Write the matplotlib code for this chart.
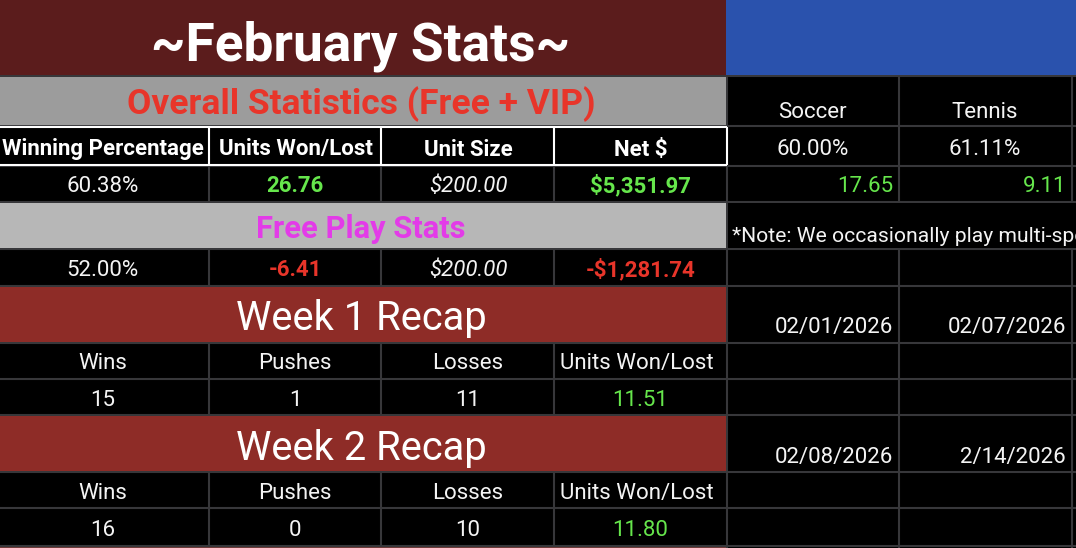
import matplotlib
matplotlib.use("Agg")
import matplotlib.pyplot as plt
from matplotlib.patches import Rectangle

plt.rcParams['font.family'] = ['Roboto', 'DejaVu Sans']

TITLE = "~February Stats~"
OVERALL = "Overall Statistics (Free + VIP)"
FREE = "Free Play Stats"
HEADERS = ["Winning Percentage", "Units Won/Lost", "Unit Size", "Net $"]
OVERALL_VALUES = ["60.38%", "26.76", "$200.00", "$5,351.97"]
FREE_VALUES = ["52.00%", "-6.41", "$200.00", "-$1,281.74"]
WEEK_TITLES = ["Week 1 Recap", "Week 2 Recap"]
WEEK_HEADERS = ["Wins", "Pushes", "Losses", "Units Won/Lost"]
WEEK_ROWS = [["15", "1", "11", "11.51"], ["16", "0", "10", "11.80"]]
SPORTS = ["Soccer", "Tennis"]
SPORT_PCT = ["60.00%", "61.11%"]
SPORT_UNITS = ["17.65", "9.11"]
NOTE = "*Note: We occasionally play multi-sport"
WEEK_DATES = [["02/01/2026", "02/07/2026"], ["02/08/2026", "2/14/2026"]]

XS = [0, 208.5, 381, 553.5, 726.5, 898.5, 1071.5, 1076]
YS = [0, 76, 126, 166, 202, 249, 286, 343, 379, 415, 472, 508, 545.5, 548]

GREEN = "#66e64c"
RED = "#e8352a"
DARK_RED = "#5b1c1c"
MID_RED = "#8e2c27"
GRID = "#37373a"
WHITE = "#f4f4f4"

fig = plt.figure(figsize=(10.76, 5.48), dpi=100, facecolor="black")
ax = fig.add_axes([0, 0, 1, 1])
ax.set_xlim(0, 1076)
ax.set_ylim(548, 0)
ax.axis("off")


def rect(x0, y0, x1, y1, color, z=1):
    ax.add_patch(Rectangle((x0, y0), x1 - x0, y1 - y0, facecolor=color, edgecolor="none", zorder=z))


def put(x, y, s, size, color=WHITE, ha="center", weight="normal", style="normal"):
    ax.text(x, y, s, fontsize=size, color=color, ha=ha, va="center_baseline",
            fontweight=weight, fontstyle=style, zorder=5, clip_on=True)


# grid lines
for x in XS[1:-1]:
    ax.plot([x, x], [76, 548], color=GRID, lw=1.5, zorder=2, solid_capstyle="butt")
for y in YS[1:-1]:
    ax.plot([0, 1076], [y, y], color=GRID, lw=1.5, zorder=2, solid_capstyle="butt")

# bands
rect(0, 0, 726, 75, DARK_RED, 3)
rect(726, 0, 1076, 75, "#2a52ad", 3)
rect(0, 77, 726, 125, "#9c9c9c", 3)
rect(0, 203, 726, 248, "#b7b7b7", 3)
rect(0, 287, 726, 342, MID_RED, 3)
rect(0, 416, 726, 471, MID_RED, 3)
rect(0, 546.5, 726, 548, "#6e3a38", 3)

put(361, 40, TITLE, 38.3, "white", weight="bold")
put(361, 100, OVERALL, 25.5, RED, weight="bold")
put(361, 226, FREE, 22.2, "#e33be8", weight="bold")

cx = [(XS[i] + XS[i + 1]) / 2 for i in range(6)]
cx_text = [102.5, 295, 468, 640.5]

# header row with white borders
for i, h in enumerate(HEADERS):
    put(cx_text[i] + (0.5 if i else 0), 147, h, 16, "white", weight="bold")
for x in XS[1:5]:
    ax.plot([x, x], [127, 165], color="white", lw=1.5, zorder=4, solid_capstyle="butt")
for y in (127, 165):
    ax.plot([0, 726.5], [y, y], color="white", lw=1.5, zorder=4, solid_capstyle="butt")

# overall / free values
for row, y, colors in ((OVERALL_VALUES, 184, [WHITE, GREEN, WHITE, GREEN]),
                       (FREE_VALUES, 268, [WHITE, RED, WHITE, RED])):
    for i, v in enumerate(row):
        put(cx_text[i], y, v, 16, colors[i],
            weight="bold" if i in (1, 3) else "normal",
            style="italic" if i == 2 else "normal")

# weekly recaps
for k, (ty, hy, vy) in enumerate(((314, 361, 398), (444, 491, 528))):
    put(361.5, ty, WEEK_TITLES[k], 28.7, "white")
    for i, h in enumerate(WEEK_HEADERS):
        put(cx_text[i] - (3.5 if i == 3 else 0), hy, h, 16)
    for i, v in enumerate(WEEK_ROWS[k]):
        put(cx_text[i], vy, v, 16, GREEN if i == 3 else WHITE)

# right side
for i in range(2):
    c = (XS[4 + i] + XS[5 + i]) / 2
    r = XS[5 + i] - 5.5
    put(c, 110, SPORTS[i], 16)
    put(c, 147, SPORT_PCT[i], 16)
    put(r, 184, SPORT_UNITS[i], 16, GREEN, ha="right")
    put(r, 325, WEEK_DATES[0][i], 16, ha="right")
    put(r, 455, WEEK_DATES[1][i], 16, ha="right")
rect(727.5, 203, 1076, 248, "black", 3)
put(732, 234, NOTE, 15.2, ha="left")

fig.savefig("out.png", dpi=100, facecolor="black")
